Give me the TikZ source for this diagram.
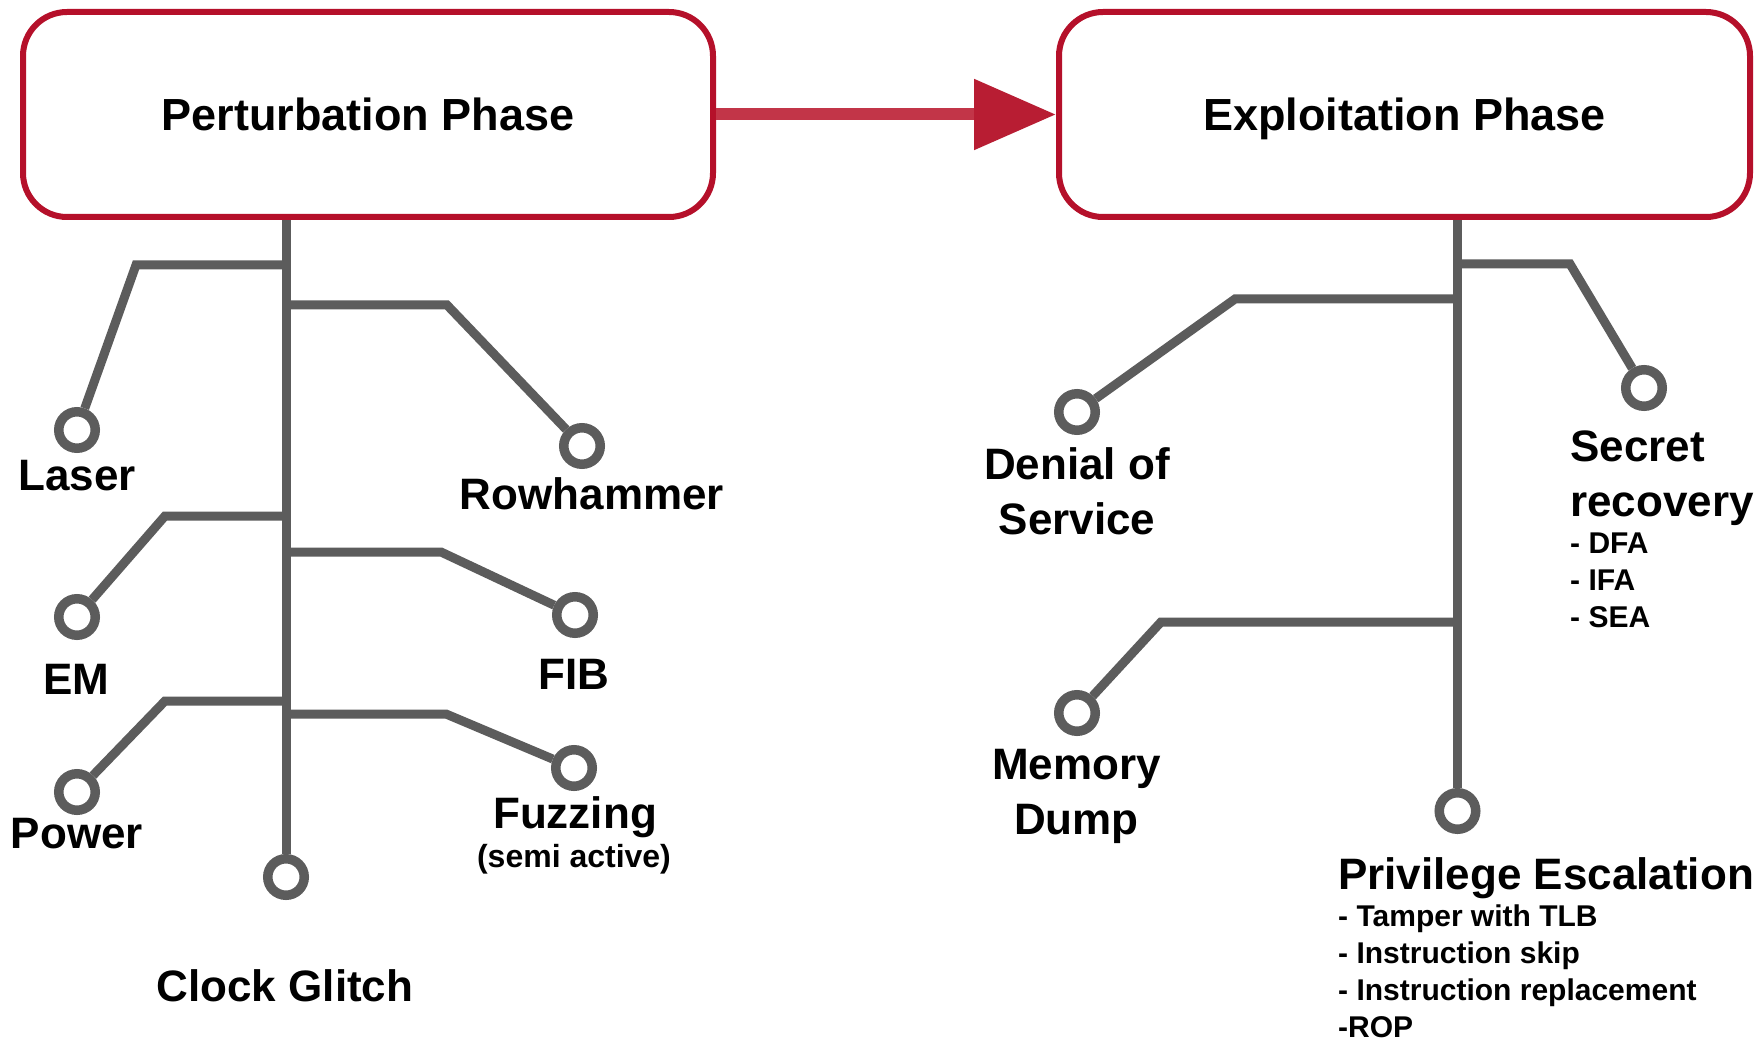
\documentclass[tikz,border=0pt]{standalone}
\usepackage{fontspec}
\setmainfont{Liberation Sans}
\usetikzlibrary{arrows.meta}

\definecolor{phasered}{HTML}{B5102A}
\definecolor{shaftred}{HTML}{C23548}
\definecolor{headred}{HTML}{B81D33}
\definecolor{wiregray}{HTML}{5C5C5C}

\begin{document}
\begin{tikzpicture}[x=1pt,y=-1pt,
  phase/.style={draw=phasered, line width=6pt, fill=white, rounded corners=44pt,
    minimum height=205pt, inner sep=0pt, text height=33pt, text depth=0pt,
    font=\fontsize{45}{54}\selectfont\bfseries},
  wire/.style={draw=wiregray, line width=9pt},
  pad/.style={circle, draw=wiregray, line width=9.5pt, fill=white,
    minimum size=36.5pt, inner sep=0pt},
  lbl/.style={font=\fontsize{44}{55.5}\selectfont\bfseries, inner sep=0pt, anchor=base},
  lblw/.style={lbl, anchor=base west},
  sub/.style={font=\fontsize{30}{37}\selectfont\bfseries, inner sep=0pt, anchor=base west},
  note/.style={font=\fontsize{32}{38}\selectfont\bfseries, inner sep=0pt, anchor=base},
]
\fill[white] (0,0) rectangle (1762,1040);
\useasboundingbox (0,0) rectangle (1762,1040);

% phase boxes and the arrow between them
\node[phase, minimum width=690pt] (pp) at (368,114.5) {Perturbation Phase};
\node[phase, minimum width=691pt] (ep) at (1404.5,114.5) {Exploitation Phase};
\draw[shaftred, line width=12pt, -{Triangle[length=82pt, width=68pt, color=headred]}]
  (pp.east) -- (ep.west);

% perturbation pads
\node[pad] (cLaser) at (77,430) {};
\node[pad] (cRow)   at (582,446) {};
\node[pad] (cEM)    at (77,617) {};
\node[pad] (cFIB)   at (575,615) {};
\node[pad] (cPow)   at (77,792) {};
\node[pad] (cFuzz)  at (574,768) {};
\node[pad] (cClk)   at (286,877) {};

\coordinate (bLaser) at (136,265);
\coordinate (bRow)   at (447,305);
\coordinate (bEM)    at (165,516);
\coordinate (bFIB)   at (441,552);
\coordinate (bPow)   at (165,701);
\coordinate (bFuzz)  at (446,714);

\draw[wire] (pp.south -| cClk) -- (cClk);
\draw[wire] (cLaser) -- (bLaser) -- (bLaser -| cClk);
\draw[wire] (cRow) -- (bRow) -- (bRow -| cClk);
\draw[wire] (cEM) -- (bEM) -- (bEM -| cClk);
\draw[wire] (cFIB) -- (bFIB) -- (bFIB -| cClk);
\draw[wire] (cPow) -- (bPow) -- (bPow -| cClk);
\draw[wire] (cFuzz) -- (bFuzz) -- (bFuzz -| cClk);

% perturbation labels
\node[lbl] (tLaser) at (77,490) {Laser};
\node[lbl] (tRow)   at (592,509) {Rowhammer};
\node[lbl] (tEM)    at (76,694) {EM};
\node[lbl] (tFIB)   at (574,689) {FIB};
\node[lbl] (tPow)   at (77,848) {Power};
\node[lbl] (tFuzz)  at (575,828) {Fuzzing};
\node[note] (tSemi) at (574,867) {(semi active)};
\node[lbl] (tClk)   at (285,1001) {Clock Glitch};

% exploitation pads
\node[pad] (cSec) at (1644,388) {};
\node[pad] (cDoS) at (1077,412) {};
\node[pad] (cMem) at (1077,713) {};
\node[pad] (cPriv) at (1457.5,811) {};

\coordinate (bSec) at (1570,264);
\coordinate (bDoS) at (1235,299);
\coordinate (bMem) at (1161,622);

\draw[wire] (ep.south -| cPriv) -- (cPriv);
\draw[wire] (cSec) -- (bSec) -- (bSec -| cPriv);
\draw[wire] (cDoS) -- (bDoS) -- (bDoS -| cPriv);
\draw[wire] (cMem) -- (bMem) -- (bMem -| cPriv);

% exploitation labels
\node[lbl] (tDoS) at (1077,479) {\begin{tabular}[t]{@{}c@{}}Denial of\\Service\end{tabular}};
\node[lbl] (tMem) at (1076.5,779) {\begin{tabular}[t]{@{}c@{}}Memory\\Dump\end{tabular}};
\node[lblw] (tSec) at (1570,461) {\begin{tabular}[t]{@{}l@{}}Secret\\recovery\end{tabular}};
\node[sub] (lSec) at (1570,553) {\begin{tabular}[t]{@{}l@{}}- DFA\\- IFA\\- SEA\end{tabular}};
\node[lblw] (tPriv) at (1338,889) {Privilege Escalation};
\node[sub] (lPriv) at (1338,926) {\begin{tabular}[t]{@{}l@{}}- Tamper with TLB\\- Instruction skip\\- Instruction replacement\\-ROP\end{tabular}};
\end{tikzpicture}
\end{document}
